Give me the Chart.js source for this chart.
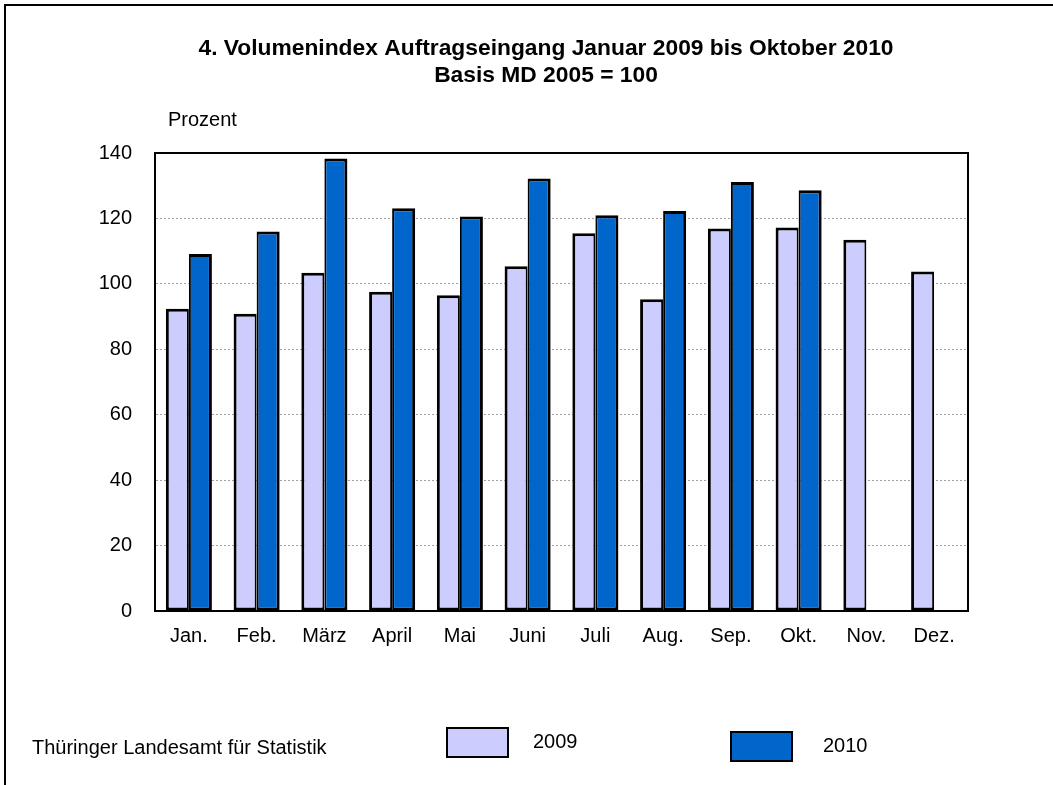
<!DOCTYPE html>
<html lang="de">
<head>
<meta charset="utf-8">
<title>Volumenindex Auftragseingang</title>
<script src="https://cdn.jsdelivr.net/npm/chart.js@4.4.1/dist/chart.umd.min.js"></script>
<style>
  html, body { margin: 0; padding: 0; background: #fff; }
  #wrap { width: 1053px; height: 785px; }
</style>
</head>
<body>
<div id="wrap"><canvas id="chart" width="1053" height="785"></canvas></div>
<script>
const months = ["Jan.", "Feb.", "März", "April", "Mai", "Juni", "Juli", "Aug.", "Sep.", "Okt.", "Nov.", "Dez."];
const values2009 = [92.4, 90.9, 103.4, 97.6, 96.5, 105.4, 115.5, 95.3, 116.9, 117.2, 113.5, 103.8];
const values2010 = [109.1, 116.0, 138.3, 123.1, 120.6, 132.2, 121.0, 122.3, 131.1, 128.6, null, null];
const seriesLabels = ["2009", "2010"];
const seriesColours = ["#ccccff", "#0066cc"];

const titleLines = ["4. Volumenindex Auftragseingang Januar 2009 bis Oktober 2010", "Basis MD 2005 = 100"];
const yAxisLabel = "Prozent";
const sourceText = "Thüringer Landesamt für Statistik";

const FONT = '"Liberation Sans", Arial, sans-serif';

// frame, title, axis caption, source and legend drawn around the chart area
const decorPlugin = {
  id: "decor",
  afterDraw(chart) {
    const ctx = chart.ctx;
    const a = chart.chartArea;
    ctx.save();

    // outer frame (only top and left visible)
    ctx.strokeStyle = "#000";
    ctx.lineWidth = 2;
    ctx.beginPath();
    ctx.moveTo(5, 785);
    ctx.lineTo(5, 5);
    ctx.lineTo(1053, 5);
    ctx.stroke();

    // plot frame
    ctx.strokeRect(a.left, a.top, a.right - a.left, a.bottom - a.top);

    ctx.fillStyle = "#000";
    ctx.textBaseline = "alphabetic";

    ctx.font = "bold 22.8px " + FONT;
    ctx.textAlign = "center";
    ctx.fillText(titleLines[0], 546, 55);
    ctx.fillText(titleLines[1], 546, 82);

    ctx.font = "20px " + FONT;
    ctx.textAlign = "left";
    ctx.fillText(yAxisLabel, 168, 126);
    ctx.fillText(sourceText, 32, 754);

    // legend
    const boxes = [
      { x: 447, y: 728, tx: 533, ty: 748 },
      { x: 731, y: 732, tx: 823, ty: 752 },
    ];
    chart.data.datasets.forEach((ds, i) => {
      const b = boxes[i];
      ctx.fillStyle = ds.backgroundColor;
      ctx.fillRect(b.x, b.y, 61, 29);
      ctx.lineWidth = 2;
      ctx.strokeStyle = "#000";
      ctx.strokeRect(b.x, b.y, 61, 29);
      ctx.fillStyle = "#000";
      ctx.fillText(ds.label, b.tx, b.ty);
    });

    ctx.restore();
  },
};

new Chart(document.getElementById("chart"), {
  type: "bar",
  data: {
    labels: months,
    datasets: [
      {
        label: seriesLabels[0],
        data: values2009,
        backgroundColor: seriesColours[0],
        borderColor: "#000",
        borderWidth: { left: 3, top: 3, right: 2, bottom: 3 },
        borderSkipped: false,
        categoryPercentage: 0.68,
        barPercentage: 1,
      },
      {
        label: seriesLabels[1],
        data: values2010,
        backgroundColor: seriesColours[1],
        borderColor: "#000",
        borderWidth: { left: 2, top: 3, right: 3, bottom: 3 },
        borderSkipped: false,
        categoryPercentage: 0.68,
        barPercentage: 1,
      },
    ],
  },
  options: {
    responsive: false,
    animation: false,
    layout: { padding: { top: 153, right: 85, bottom: 0, left: 0 } },
    plugins: {
      legend: { display: false },
      title: { display: false },
      tooltip: { enabled: false },
    },
    scales: {
      x: {
        grid: { display: false, drawTicks: false },
        border: { display: true, color: "#000", width: 2 },
        ticks: { color: "#000", font: { family: FONT, size: 20 }, padding: 13, maxRotation: 0 },
        afterFit: (scale) => { scale.height = 174; },
      },
      y: {
        min: 0,
        max: 140,
        ticks: { stepSize: 20, color: "#000", font: { family: FONT, size: 20 }, padding: 23 },
        grid: { color: "#a0a0a0", lineWidth: 1, drawTicks: false },
        border: { display: true, color: "#000", width: 2, dash: [2, 2] },
        afterFit: (scale) => { scale.width = 155; },
      },
    },
  },
  plugins: [decorPlugin],
});
</script>
</body>
</html>
